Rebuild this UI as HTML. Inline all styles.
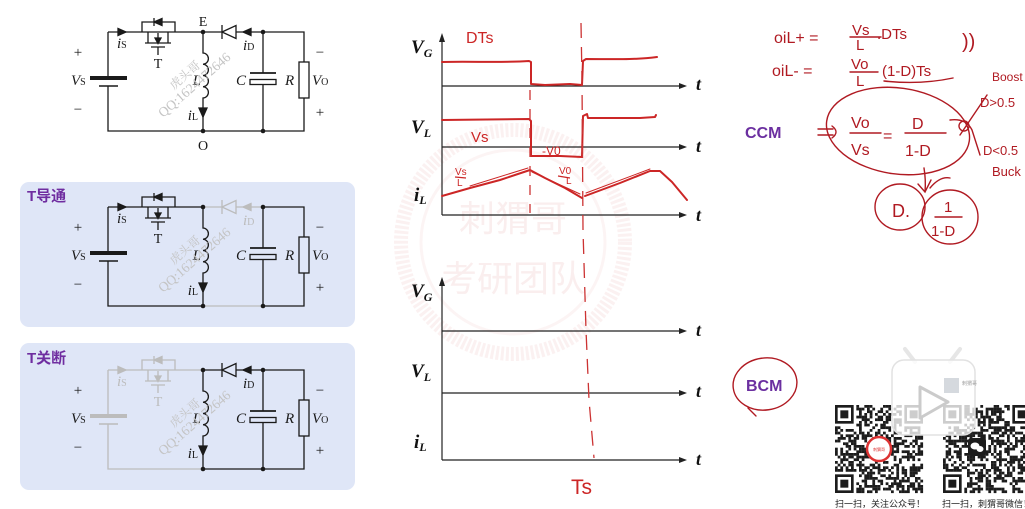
<!DOCTYPE html>
<html><head><meta charset="utf-8">
<style>
html,body{margin:0;padding:0;background:#fff;overflow:hidden;}
svg{display:block}
.s{font-family:"Liberation Serif","Noto Serif CJK SC",serif;stroke:none}
.it{font-style:italic}
.hw{font-family:"Liberation Sans",sans-serif;fill:#b01a22;stroke:none}
.wm{font-family:"Liberation Serif","Noto Serif CJK SC",serif;fill:#c4c4c4;stroke:none}
</style></head><body>
<svg id="m" width="1025" height="509" viewBox="0 0 1025 509" xmlns="http://www.w3.org/2000/svg">
<rect width="1025" height="509" fill="#fff"/>

<!-- faint seal watermark -->
<g opacity="0.3">
<circle cx="513" cy="242" r="112" fill="none" stroke="#f3d2d2" stroke-width="14" stroke-dasharray="3 2"/>
<circle cx="513" cy="242" r="92" fill="none" stroke="#f6dcdc" stroke-width="3"/>
<text x="513" y="231" font-size="36" text-anchor="middle" fill="#efc8c8" font-family="Liberation Sans,Noto Sans CJK SC,sans-serif">刺猬哥</text>
<text x="513" y="291" font-size="36" text-anchor="middle" fill="#efc8c8" font-family="Liberation Sans,Noto Sans CJK SC,sans-serif">考研团队</text>
</g>

<!-- panels -->
<rect x="20" y="182" width="335" height="145" rx="9" fill="#dfe6f7"/>
<rect x="20" y="343" width="335" height="147" rx="9" fill="#dfe6f7"/>
<text x="27" y="201" font-size="15" font-weight="bold" fill="#6f2da0" font-family="Liberation Sans,Noto Sans CJK SC,sans-serif">T导通</text>
<text x="27" y="363" font-size="15" font-weight="bold" fill="#6f2da0" font-family="Liberation Sans,Noto Sans CJK SC,sans-serif">T关断</text>

<!-- ===== Circuit 1 ===== -->
<g stroke-width="1.3">
 <g stroke="#1a1a1a" fill="#1a1a1a">
  <path fill="none" d="M108,32 V78 M108,86 V131 H203 M108,32 H203 M142,32 V22 H175 V32 M148,32 V43 M168,32 V43 M145,43 H171 M151,47 H165 M158,47 V55 M158,33 V39 M154,18 V26"/>
  <path fill="none" stroke-width="4" d="M90,78 H127"/>
  <path fill="none" stroke-width="1.5" d="M99,86 H118"/>
  <polygon points="118,28.5 126,32 118,35.5"/>
  <polygon points="154,22 162,18.5 162,25.5"/>
  <polygon points="155,38 161,38 158,43.5"/>
  <text class="s" x="117" y="48" font-size="15"><tspan class="it">i</tspan><tspan font-size="10">S</tspan></text>
  <text class="s" x="158" y="68" font-size="14" text-anchor="middle">T</text>
 </g>
 <g stroke="#1a1a1a" fill="#1a1a1a">
  <path fill="none" d="M203,32 H222 M236,32 H263 M203,131 H263 M222,25 V39"/>
  <polygon fill="none" points="222,32 236,25.5 236,38.5"/>
  <polygon points="251,28.5 243,32 251,35.5"/>
  <text class="s" x="243" y="50" font-size="15"><tspan class="it">i</tspan><tspan font-size="10">D</tspan></text>
 </g>
 <g stroke="#1a1a1a" fill="#1a1a1a">
  <path fill="none" d="M203,32 V53 a5.63,5.63 0 0 1 0,11.25 a5.63,5.63 0 0 1 0,11.25 a5.63,5.63 0 0 1 0,11.25 a5.63,5.63 0 0 1 0,11.25 V131"/>
  <polygon points="199,108 207,108 203,117"/>
  <path fill="none" d="M263,32 H304 V62 M304,98 V131 H263 M263,32 V73 M263,85 V131"/>
  <path fill="none" stroke-width="1.8" d="M250,73 H276"/>
  <rect fill="none" x="250" y="79.5" width="26" height="5"/>
  <rect fill="none" x="299" y="62" width="10" height="36"/>
  <circle cx="203" cy="32" r="2.3" stroke="none"/><circle cx="203" cy="131" r="2.3" stroke="none"/>
  <circle cx="263" cy="32" r="2.3" stroke="none"/><circle cx="263" cy="131" r="2.3" stroke="none"/>
  <text class="s it" x="201" y="85" font-size="15" text-anchor="end">L</text>
  <text class="s" x="198" y="120" font-size="15" text-anchor="end"><tspan class="it">i</tspan><tspan font-size="10">L</tspan></text>
  <text class="s it" x="236" y="85" font-size="15">C</text>
  <text class="s it" x="285" y="85" font-size="15">R</text>
  <text class="s" x="312" y="85" font-size="15"><tspan class="it">V</tspan><tspan font-size="10">O</tspan></text>
  <text class="s" x="320" y="57" font-size="15" text-anchor="middle">−</text>
  <text class="s" x="320" y="117" font-size="15" text-anchor="middle">+</text>
  <text class="s" x="78" y="57" font-size="15" text-anchor="middle">+</text>
  <text class="s" x="78" y="114" font-size="15" text-anchor="middle">−</text>
  <text class="s" x="71" y="85" font-size="15"><tspan class="it">V</tspan><tspan font-size="10">S</tspan></text>
  <text class="s" x="203" y="26" font-size="14" text-anchor="middle">E</text>
  <text class="s" x="203" y="150" font-size="14" text-anchor="middle">O</text>
 </g>
 <text class="wm" font-size="12" transform="translate(174,90) rotate(-41)">虎头哥</text>
 <text class="wm" font-size="13.5" transform="translate(163,118) rotate(-41)">QQ:1624472646</text>
</g>

<!-- ===== Circuit 2 (T on) ===== -->
<g stroke-width="1.3" transform="translate(0,175)">
 <g stroke="#1a1a1a" fill="#1a1a1a">
  <path fill="none" d="M108,32 V78 M108,86 V131 H203 M108,32 H203 M142,32 V22 H175 V32 M148,32 V43 M168,32 V43 M145,43 H171 M151,47 H165 M158,47 V55 M158,33 V39 M154,18 V26"/>
  <path fill="none" stroke-width="4" d="M90,78 H127"/>
  <path fill="none" stroke-width="1.5" d="M99,86 H118"/>
  <polygon points="118,28.5 126,32 118,35.5"/>
  <polygon points="154,22 162,18.5 162,25.5"/>
  <polygon points="155,38 161,38 158,43.5"/>
  <text class="s" x="117" y="48" font-size="15"><tspan class="it">i</tspan><tspan font-size="10">S</tspan></text>
  <text class="s" x="158" y="68" font-size="14" text-anchor="middle">T</text>
 </g>
 <g stroke="#bcbcbc" fill="#bcbcbc">
  <path fill="none" d="M203,32 H222 M236,32 H263 M203,131 H263 M222,25 V39"/>
  <polygon fill="none" points="222,32 236,25.5 236,38.5"/>
  <polygon points="251,28.5 243,32 251,35.5"/>
  <text class="s" x="243" y="50" font-size="15"><tspan class="it">i</tspan><tspan font-size="10">D</tspan></text>
 </g>
 <g stroke="#1a1a1a" fill="#1a1a1a">
  <path fill="none" d="M203,32 V53 a5.63,5.63 0 0 1 0,11.25 a5.63,5.63 0 0 1 0,11.25 a5.63,5.63 0 0 1 0,11.25 a5.63,5.63 0 0 1 0,11.25 V131"/>
  <polygon points="199,108 207,108 203,117"/>
  <path fill="none" d="M263,32 H304 V62 M304,98 V131 H263 M263,32 V73 M263,85 V131"/>
  <path fill="none" stroke-width="1.8" d="M250,73 H276"/>
  <rect fill="none" x="250" y="79.5" width="26" height="5"/>
  <rect fill="none" x="299" y="62" width="10" height="36"/>
  <circle cx="203" cy="32" r="2.3" stroke="none"/><circle cx="203" cy="131" r="2.3" stroke="none"/>
  <circle cx="263" cy="32" r="2.3" stroke="none"/><circle cx="263" cy="131" r="2.3" stroke="none"/>
  <text class="s it" x="201" y="85" font-size="15" text-anchor="end">L</text>
  <text class="s" x="198" y="120" font-size="15" text-anchor="end"><tspan class="it">i</tspan><tspan font-size="10">L</tspan></text>
  <text class="s it" x="236" y="85" font-size="15">C</text>
  <text class="s it" x="285" y="85" font-size="15">R</text>
  <text class="s" x="312" y="85" font-size="15"><tspan class="it">V</tspan><tspan font-size="10">O</tspan></text>
  <text class="s" x="320" y="57" font-size="15" text-anchor="middle">−</text>
  <text class="s" x="320" y="117" font-size="15" text-anchor="middle">+</text>
  <text class="s" x="78" y="57" font-size="15" text-anchor="middle">+</text>
  <text class="s" x="78" y="114" font-size="15" text-anchor="middle">−</text>
  <text class="s" x="71" y="85" font-size="15"><tspan class="it">V</tspan><tspan font-size="10">S</tspan></text>
 </g>
 <text class="wm" font-size="12" transform="translate(174,90) rotate(-41)">虎头哥</text>
 <text class="wm" font-size="13.5" transform="translate(163,118) rotate(-41)">QQ:1624472646</text>
</g>

<!-- ===== Circuit 3 (T off) ===== -->
<g stroke-width="1.3" transform="translate(0,338)">
 <g stroke="#bcbcbc" fill="#bcbcbc">
  <path fill="none" d="M108,32 V78 M108,86 V131 H203 M108,32 H203 M142,32 V22 H175 V32 M148,32 V43 M168,32 V43 M145,43 H171 M151,47 H165 M158,47 V55 M158,33 V39 M154,18 V26"/>
  <path fill="none" stroke-width="4" d="M90,78 H127"/>
  <path fill="none" stroke-width="1.5" d="M99,86 H118"/>
  <polygon points="118,28.5 126,32 118,35.5"/>
  <polygon points="154,22 162,18.5 162,25.5"/>
  <polygon points="155,38 161,38 158,43.5"/>
  <text class="s" x="117" y="48" font-size="15"><tspan class="it">i</tspan><tspan font-size="10">S</tspan></text>
  <text class="s" x="158" y="68" font-size="14" text-anchor="middle">T</text>
 </g>
 <g stroke="#1a1a1a" fill="#1a1a1a">
  <path fill="none" d="M203,32 H222 M236,32 H263 M203,131 H263 M222,25 V39"/>
  <polygon fill="none" points="222,32 236,25.5 236,38.5"/>
  <polygon points="251,28.5 243,32 251,35.5"/>
  <text class="s" x="243" y="50" font-size="15"><tspan class="it">i</tspan><tspan font-size="10">D</tspan></text>
 </g>
 <g stroke="#1a1a1a" fill="#1a1a1a">
  <path fill="none" d="M203,32 V53 a5.63,5.63 0 0 1 0,11.25 a5.63,5.63 0 0 1 0,11.25 a5.63,5.63 0 0 1 0,11.25 a5.63,5.63 0 0 1 0,11.25 V131"/>
  <polygon points="199,108 207,108 203,117"/>
  <path fill="none" d="M263,32 H304 V62 M304,98 V131 H263 M263,32 V73 M263,85 V131"/>
  <path fill="none" stroke-width="1.8" d="M250,73 H276"/>
  <rect fill="none" x="250" y="79.5" width="26" height="5"/>
  <rect fill="none" x="299" y="62" width="10" height="36"/>
  <circle cx="203" cy="32" r="2.3" stroke="none"/><circle cx="203" cy="131" r="2.3" stroke="none"/>
  <circle cx="263" cy="32" r="2.3" stroke="none"/><circle cx="263" cy="131" r="2.3" stroke="none"/>
  <text class="s it" x="201" y="85" font-size="15" text-anchor="end">L</text>
  <text class="s" x="198" y="120" font-size="15" text-anchor="end"><tspan class="it">i</tspan><tspan font-size="10">L</tspan></text>
  <text class="s it" x="236" y="85" font-size="15">C</text>
  <text class="s it" x="285" y="85" font-size="15">R</text>
  <text class="s" x="312" y="85" font-size="15"><tspan class="it">V</tspan><tspan font-size="10">O</tspan></text>
  <text class="s" x="320" y="57" font-size="15" text-anchor="middle">−</text>
  <text class="s" x="320" y="117" font-size="15" text-anchor="middle">+</text>
  <text class="s" x="78" y="57" font-size="15" text-anchor="middle">+</text>
  <text class="s" x="78" y="114" font-size="15" text-anchor="middle">−</text>
  <text class="s" x="71" y="85" font-size="15"><tspan class="it">V</tspan><tspan font-size="10">S</tspan></text>
 </g>
 <text class="wm" font-size="12" transform="translate(174,90) rotate(-41)">虎头哥</text>
 <text class="wm" font-size="13.5" transform="translate(163,118) rotate(-41)">QQ:1624472646</text>
</g>

<!-- ===== Graph axes ===== -->
<g stroke="#222" stroke-width="1.2" fill="#222">
 <path fill="none" d="M442,215 V38 M442,86 H680 M442,147 H680 M442,215 H680"/>
 <polygon stroke="none" points="439,42 445,42 442,33"/>
 <polygon stroke="none" points="679,83 687,86 679,89"/>
 <polygon stroke="none" points="679,144 687,147 679,150"/>
 <polygon stroke="none" points="679,212 687,215 679,218"/>
 <path fill="none" d="M442,460 V282 M442,331 H680 M442,393 H680 M442,460 H680"/>
 <polygon stroke="none" points="439,286 445,286 442,277"/>
 <polygon stroke="none" points="679,328 687,331 679,334"/>
 <polygon stroke="none" points="679,390 687,393 679,396"/>
 <polygon stroke="none" points="679,457 687,460 679,463"/>
</g>
<g class="s" font-weight="bold" font-style="italic" fill="#111">
 <text x="411" y="53" font-size="19">V<tspan font-size="12" dy="4">G</tspan></text>
 <text x="411" y="133" font-size="19">V<tspan font-size="12" dy="4">L</tspan></text>
 <text x="414" y="201" font-size="19">i<tspan font-size="12" dy="3">L</tspan></text>
 <text x="411" y="297" font-size="19">V<tspan font-size="12" dy="4">G</tspan></text>
 <text x="411" y="377" font-size="19">V<tspan font-size="12" dy="4">L</tspan></text>
 <text x="414" y="448" font-size="19">i<tspan font-size="12" dy="3">L</tspan></text>
 <text x="696" y="90" font-size="18">t</text>
 <text x="696" y="152" font-size="18">t</text>
 <text x="696" y="221" font-size="18">t</text>
 <text x="696" y="336" font-size="18">t</text>
 <text x="696" y="397" font-size="18">t</text>
 <text x="696" y="465" font-size="18">t</text>
</g>

<!-- red waveforms -->
<g fill="none" stroke="#cc2626" stroke-width="2" stroke-linejoin="round" stroke-linecap="round">
 <path d="M442,62 C470,61 500,63 529,61 L531,62 L531,84 L545,85 L570,84 L582,85 L583,61 L586,59 C610,59 635,60 657,57"/>
 <path d="M442,120 L529,119 L531,121 L531,156 L560,156 L582,157 L583,116 L587,114 L588,118 L640,118 L655,117 L656,115"/>
 <path d="M442,196 L470,188 L500,180 L530,170 L545,178 L565,188 L582,198"/>
 <path d="M585,196 L620,183 L650,171 L660,171 L672,182 L687,200"/>
 <path stroke-width="1" d="M470,186 L528,168 M532,172 L580,194 M586,193 L650,169"/>
</g>
<g fill="none" stroke="#cc3333" stroke-width="1.3">
 <path stroke-dasharray="10 9" d="M530,90 L530,213"/>
 <path stroke-dasharray="15 9" d="M581,23 L582,80 L583,230 L586,330 L589,400 L594,458"/>
</g>
<g class="hw" fill="#cc2626" style="fill:#cc2626">
 <text x="466" y="43" font-size="16">DTs</text>
 <text x="471" y="142" font-size="15">Vs</text>
 <text x="542" y="155" font-size="12">-V0</text>
 <text x="455" y="175" font-size="10">Vs</text>
 <text x="457" y="186" font-size="10">L</text>
 <text x="559" y="174" font-size="10">V0</text>
 <text x="566" y="184" font-size="10">L</text>
 <text x="571" y="494" font-size="21">Ts</text>
</g>
<path d="M455,177 L466,178 M558,176 L570,178" stroke="#cc2626" stroke-width="1.2" fill="none"/>

<!-- right handwriting -->
<g class="hw">
 <text x="774" y="43" font-size="16">oiL+ =</text>
 <text x="852" y="35" font-size="15">Vs</text>
 <text x="856" y="50" font-size="15">L</text>
 <text x="877" y="39" font-size="15">.DTs</text>
 <text x="962" y="48" font-size="20">))</text>
 <text x="772" y="76" font-size="16">oiL- =</text>
 <text x="851" y="69" font-size="15">Vo</text>
 <text x="856" y="86" font-size="15">L</text>
 <text x="882" y="76" font-size="15">(1-D)Ts</text>
 <text x="992" y="81" font-size="12">Boost</text>
 <text x="980" y="107" font-size="13">D&gt;0.5</text>
 <text x="851" y="128" font-size="16">Vo</text>
 <text x="851" y="155" font-size="16">Vs</text>
 <text x="883" y="141" font-size="16">=</text>
 <text x="912" y="129" font-size="16">D</text>
 <text x="905" y="156" font-size="16">1-D</text>
 <text x="983" y="155" font-size="13">D&lt;0.5</text>
 <text x="992" y="176" font-size="13">Buck</text>
 <text x="892" y="217" font-size="18">D.</text>
 <text x="944" y="212" font-size="15">1</text>
 <text x="931" y="236" font-size="15">1-D</text>
</g>
<g fill="none" stroke="#b01a22" stroke-width="1.4" stroke-linecap="round">
 <path d="M850,37 H881 M850,72 H878 M884,81 Q920,85 953,78 M850,133 H881 M905,133 H946 M935,217 H962"/>
 <path d="M818,129 H833 M818,135 H833 M832,126 Q840,132 832,138"/>
 <ellipse cx="898" cy="131" rx="72" ry="43" transform="rotate(8 898 131)"/>
 <path d="M987,95 L960,135 M950,120 Q966,118 972,130 L980,155"/>
 <circle cx="964" cy="126" r="5"/>
 <path d="M924,168 Q926,180 925,192 M918,184 L925,192 L931,180 M930,188 Q940,176 950,178"/>
 <ellipse cx="900" cy="207" rx="25" ry="23"/>
 <ellipse cx="950" cy="217" rx="28" ry="27"/>
 <ellipse cx="765" cy="384" rx="32" ry="26" transform="rotate(-8 765 384)"/>
 <path d="M748,408 L756,416"/>
</g>
<text x="745" y="138" font-size="16" font-weight="bold" fill="#6b2fa0" font-family="Liberation Sans,sans-serif">CCM</text>
<text x="746" y="391" font-size="16" font-weight="bold" fill="#6b2fa0" font-family="Liberation Sans,sans-serif">BCM</text>

<!-- QR codes -->
<rect x="835" y="405" width="88" height="88" fill="#fff"/>
<rect x="943" y="405" width="88" height="88" fill="#fff"/>
<g id="q1" fill="#1c1c1c"></g>
<g id="q2" fill="#1c1c1c"></g>
<circle cx="879" cy="449" r="12" fill="#fff" stroke="#d33" stroke-width="2.5"/>
<text x="879" y="451" font-size="4" text-anchor="middle" fill="#d33" font-family="Liberation Sans,Noto Sans CJK SC,sans-serif">刺猬哥</text>
<rect x="968" y="438" width="18" height="18" rx="3" fill="#1c1c1c"/>
<ellipse cx="975" cy="446" rx="4.5" ry="3.5" fill="#fff"/>
<ellipse cx="980" cy="449" rx="3.5" ry="3" fill="#fff"/>
<text x="835" y="507" font-size="9" fill="#222" font-family="Liberation Sans,Noto Sans CJK SC,sans-serif">扫一扫，关注公众号！</text>
<text x="942" y="507" font-size="9" fill="#222" font-family="Liberation Sans,Noto Sans CJK SC,sans-serif">扫一扫，刺猬哥微信！</text>

<!-- video overlay -->
<g>
 <path d="M905,349 L915,362 M960,349 L950,362" stroke="#e6e6e6" stroke-width="4" stroke-linecap="round"/>
 <rect x="892" y="360" width="83" height="75" rx="12" fill="#fff" fill-opacity="0.78" stroke="#e2e2e2" stroke-width="1.5"/>
 <polygon points="920,387 920,418 948,402" fill="#fff" stroke="#cbcbcb" stroke-width="3" stroke-linejoin="round"/>
 <rect x="944" y="378" width="15" height="15" fill="#d5d9de"/>
 <text x="962" y="385" font-size="5" fill="#999" font-family="Liberation Sans,Noto Sans CJK SC,sans-serif">刺猬哥</text>
</g>
</svg>
<script>
(function(){
 function R(s){return function(){s=(s*16807)%2147483647;return (s-1)/2147483646;}}
 function qr(g,x0,y0,sz,n,seed){
  var r=R(seed),c=sz/n,h='';
  function fin(i,j){return (i<8&&j<8)||(i<8&&j>=n-8)||(i>=n-8&&j<8);}
  for(var i=0;i<n;i++)for(var j=0;j<n;j++){
   if(fin(i,j))continue;
   if(r()<0.5)h+='<rect x="'+(x0+j*c).toFixed(2)+'" y="'+(y0+i*c).toFixed(2)+'" width="'+(c+0.1).toFixed(2)+'" height="'+(c+0.1).toFixed(2)+'"/>';
  }
  [[0,0],[0,n-7],[n-7,0]].forEach(function(p){
   var X=x0+p[1]*c,Y=y0+p[0]*c;
   h+='<rect x="'+X+'" y="'+Y+'" width="'+7*c+'" height="'+7*c+'"/>';
   h+='<rect fill="#fff" x="'+(X+c)+'" y="'+(Y+c)+'" width="'+5*c+'" height="'+5*c+'"/>';
   h+='<rect x="'+(X+2*c)+'" y="'+(Y+2*c)+'" width="'+3*c+'" height="'+3*c+'"/>';
  });
  document.getElementById(g).innerHTML=h;
 }
 qr('q1',835,405,88,33,12345);
 qr('q2',943,405,88,33,6789);
})();
</script>
</body></html>
